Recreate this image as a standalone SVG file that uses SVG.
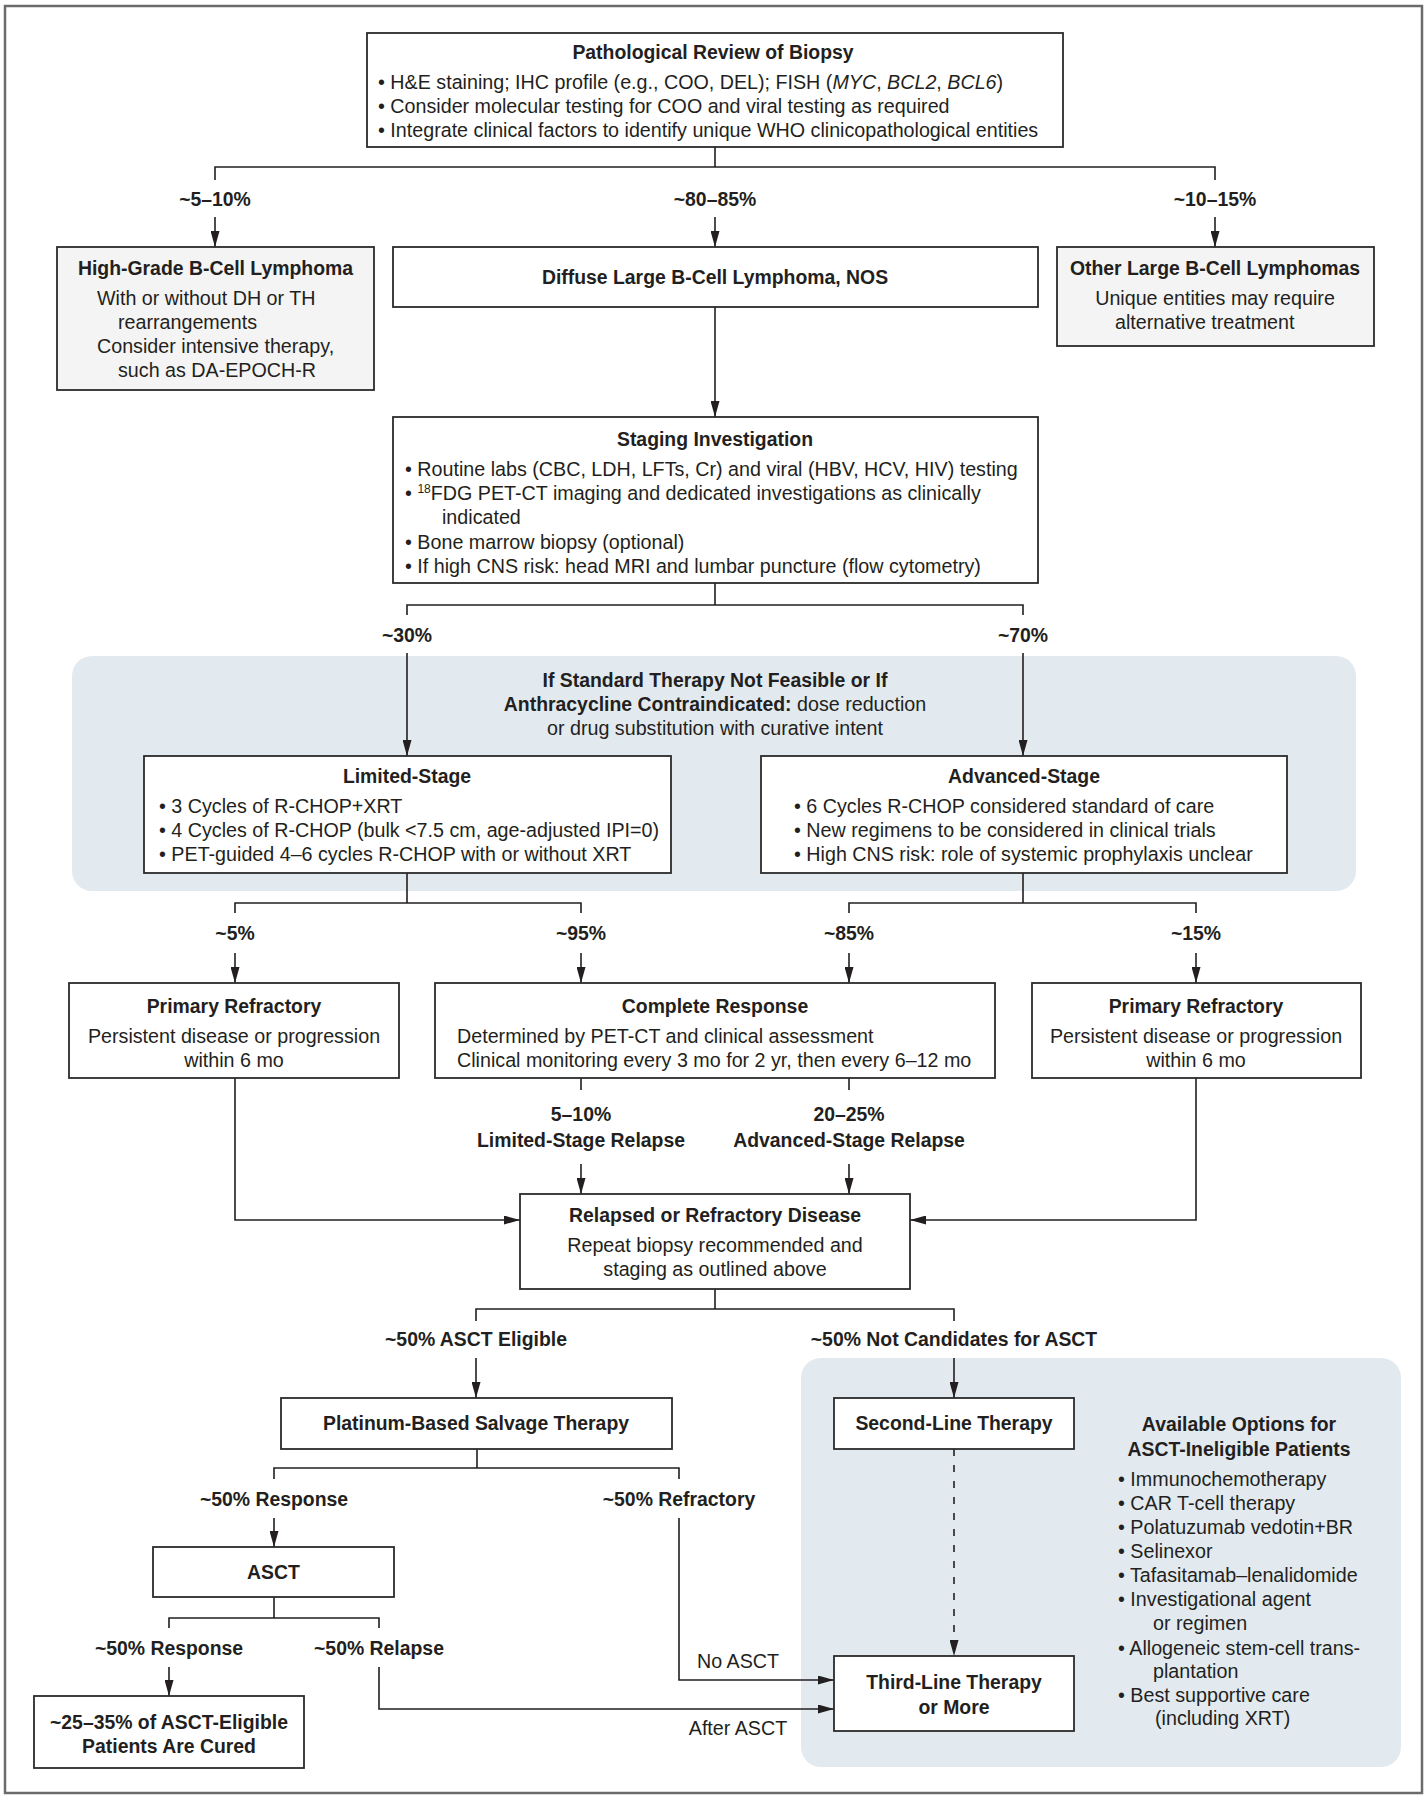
<svg xmlns="http://www.w3.org/2000/svg" width="1428" height="1800" viewBox="0 0 1428 1800">
<defs>
<marker id="ah" viewBox="0 0 16 9" refX="16" refY="4.5" markerWidth="16" markerHeight="9" markerUnits="userSpaceOnUse" orient="auto">
<path d="M0,0 L16,4.5 L0,9 z" fill="#231f20"/>
</marker>
<style>
text{font-family:"Liberation Sans",Arial,sans-serif;font-size:19.7px;fill:#231f20}
.b{font-weight:bold;font-size:19.4px}
tspan.b{font-size:19.4px}
.c{text-anchor:middle}
.i{font-style:italic}
.box{fill:#fff;stroke:#2b2b2b;stroke-width:1.8}
.gbox{fill:#f4f4f4;stroke:#2b2b2b;stroke-width:1.8}
.panel{fill:#e2eaf0}
.ln{fill:none;stroke:#231f20;stroke-width:1.6}
.ar{fill:none;stroke:#231f20;stroke-width:1.6;marker-end:url(#ah)}
.da{fill:none;stroke:#231f20;stroke-width:1.6;stroke-dasharray:7 9;marker-end:url(#ah)}
.sup{font-size:12px}
</style>
</defs>
<rect x="0" y="0" width="1428" height="1800" fill="#fff"/>
<rect x="5" y="6" width="1417" height="1787" fill="none" stroke="#6b6b6b" stroke-width="2.5"/>

<!-- panels -->
<rect id="panel1" class="panel" x="72" y="656" width="1284" height="235" rx="20"/>
<rect id="panel2" class="panel" x="801" y="1358" width="600" height="409" rx="20"/>

<!-- connectors -->
<g id="connectors">
<path class="ln" d="M715,147 V167 M215,180 V167 H1215 V180"/>
<path class="ar" d="M215,217 V247"/>
<path class="ar" d="M715,217 V247"/>
<path class="ar" d="M1215,217 V247"/>
<path class="ar" d="M715,307 V417"/>
<path class="ln" d="M715,583 V605 M407,615 V605 H1023 V615"/>
<path class="ar" d="M407,653 V756"/>
<path class="ar" d="M1023,653 V756"/>
<path class="ln" d="M407,873 V903 M235,913 V903 H581 V913"/>
<path class="ln" d="M1023,873 V903 M849,913 V903 H1196 V913"/>
<path class="ar" d="M235,953 V983"/>
<path class="ar" d="M581,953 V983"/>
<path class="ar" d="M849,953 V983"/>
<path class="ar" d="M1196,953 V983"/>
<path class="ln" d="M581,1078 V1090 M849,1078 V1090"/>
<path class="ar" d="M581,1164 V1194"/>
<path class="ar" d="M849,1164 V1194"/>
<path class="ar" d="M235,1078 V1220 H520"/>
<path class="ar" d="M1196,1078 V1220 H910"/>
<path class="ln" d="M715,1289 V1309 M476,1321 V1309 H954 V1321"/>
<path class="ar" d="M476,1358 V1398"/>
<path class="ar" d="M954,1358 V1398"/>
<path class="da" d="M954,1449 V1656"/>
<path class="ln" d="M477,1449 V1468 M274,1479 V1468 H679 V1479"/>
<path class="ar" d="M274,1518 V1547"/>
<path class="ln" d="M274,1597 V1618 M169,1628 V1618 H379 V1628"/>
<path class="ar" d="M169,1667 V1696"/>
<path class="ar" d="M679,1518 V1680 H834"/>
<path class="ar" d="M379,1667 V1709 H834"/>
</g>

<!-- connector labels -->
<g id="labels">
<text class="b c" x="215" y="205.5">~5–10%</text>
<text class="b c" x="715" y="205.5">~80–85%</text>
<text class="b c" x="1215" y="205.5">~10–15%</text>
<text class="b c" x="407" y="641.5">~30%</text>
<text class="b c" x="1023" y="641.5">~70%</text>
<text class="b c" x="235" y="939.5">~5%</text>
<text class="b c" x="581" y="939.5">~95%</text>
<text class="b c" x="849" y="939.5">~85%</text>
<text class="b c" x="1196" y="939.5">~15%</text>
<text class="b c" x="581" y="1120.5">5–10%</text>
<text class="b c" x="581" y="1146.5">Limited-Stage Relapse</text>
<text class="b c" x="849" y="1120.5">20–25%</text>
<text class="b c" x="849" y="1146.5">Advanced-Stage Relapse</text>
<text class="b c" x="476" y="1345.5">~50% ASCT Eligible</text>
<text class="b c" x="954" y="1345.5">~50% Not Candidates for ASCT</text>
<text class="b c" x="274" y="1505.5">~50% Response</text>
<text class="b c" x="679" y="1505.5">~50% Refractory</text>
<text class="b c" x="169" y="1654.5">~50% Response</text>
<text class="b c" x="379" y="1654.5">~50% Relapse</text>
<text class="c" x="738" y="1667.5">No ASCT</text>
<text class="c" x="738" y="1734.5">After ASCT</text>
</g>

<g id="pathological">
<rect class="box" x="367" y="33" width="696" height="114"/>
<text class="b c" x="713" y="58.5">Pathological Review of Biopsy</text>
<text x="378" y="88.5">• H&amp;E staining; IHC profile (e.g., COO, DEL); FISH (<tspan class="i">MYC</tspan>, <tspan class="i">BCL2</tspan>, <tspan class="i">BCL6</tspan>)</text>
<text x="378" y="112.5">• Consider molecular testing for COO and viral testing as required</text>
<text x="378" y="136.5">• Integrate clinical factors to identify unique WHO clinicopathological entities</text>
</g>

<g id="highgrade">
<rect class="gbox" x="57" y="247" width="317" height="143"/>
<text class="b c" x="215.5" y="274.5">High-Grade B-Cell Lymphoma</text>
<text x="97" y="304.5">With or without DH or TH</text>
<text x="118" y="328.5">rearrangements</text>
<text x="97" y="352.5">Consider intensive therapy,</text>
<text x="118" y="376.5">such as DA-EPOCH-R</text>
</g>

<g id="dlbcl">
<rect class="box" x="393" y="247" width="645" height="60"/>
<text class="b c" x="715" y="283.5">Diffuse Large B-Cell Lymphoma, NOS</text>
</g>

<g id="other">
<rect class="gbox" x="1057" y="247" width="317" height="99"/>
<text class="b c" x="1215" y="274.5">Other Large B-Cell Lymphomas</text>
<text class="c" x="1215" y="304.5">Unique entities may require</text>
<text x="1115" y="328.5">alternative treatment</text>
</g>

<g id="staging">
<rect class="box" x="393" y="417" width="645" height="166"/>
<text class="b c" x="715" y="445.5">Staging Investigation</text>
<text x="405" y="475.5">• Routine labs (CBC, LDH, LFTs, Cr) and viral (HBV, HCV, HIV) testing</text>
<text x="405" y="499.5">• <tspan class="sup" dy="-7">18</tspan><tspan dy="7">FDG PET-CT imaging and dedicated investigations as clinically</tspan></text>
<text x="442" y="523.5">indicated</text>
<text x="405" y="548.5">• Bone marrow biopsy (optional)</text>
<text x="405" y="572.5">• If high CNS risk: head MRI and lumbar puncture (flow cytometry)</text>
</g>

<g id="panel1text">
<text class="b c" x="715" y="686.5">If Standard Therapy Not Feasible or If</text>
<text class="c" x="715" y="710.5"><tspan class="b">Anthracycline Contraindicated:</tspan> dose reduction</text>
<text class="c" x="715" y="734.5">or drug substitution with curative intent</text>
</g>

<g id="limited">
<rect class="box" x="144" y="756" width="527" height="117"/>
<text class="b c" x="407" y="782.5">Limited-Stage</text>
<text x="159" y="812.5">• 3 Cycles of R-CHOP+XRT</text>
<text x="159" y="836.5">• 4 Cycles of R-CHOP (bulk &lt;7.5 cm, age-adjusted IPI=0)</text>
<text x="159" y="860.5">• PET-guided 4–6 cycles R-CHOP with or without XRT</text>
</g>

<g id="advanced">
<rect class="box" x="761" y="756" width="526" height="117"/>
<text class="b c" x="1024" y="782.5">Advanced-Stage</text>
<text x="794" y="812.5">• 6 Cycles R-CHOP considered standard of care</text>
<text x="794" y="836.5">• New regimens to be considered in clinical trials</text>
<text x="794" y="860.5">• High CNS risk: role of systemic prophylaxis unclear</text>
</g>

<g id="refractory-left">
<rect class="box" x="69" y="983" width="330" height="95"/>
<text class="b c" x="234" y="1012.5">Primary Refractory</text>
<text class="c" x="234" y="1042.5">Persistent disease or progression</text>
<text class="c" x="234" y="1066.5">within 6 mo</text>
</g>

<g id="complete">
<rect class="box" x="435" y="983" width="560" height="95"/>
<text class="b c" x="715" y="1012.5">Complete Response</text>
<text x="457" y="1042.5">Determined by PET-CT and clinical assessment</text>
<text x="457" y="1066.5">Clinical monitoring every 3 mo for 2 yr, then every 6–12 mo</text>
</g>

<g id="refractory-right">
<rect class="box" x="1032" y="983" width="329" height="95"/>
<text class="b c" x="1196" y="1012.5">Primary Refractory</text>
<text class="c" x="1196" y="1042.5">Persistent disease or progression</text>
<text class="c" x="1196" y="1066.5">within 6 mo</text>
</g>

<g id="relapsed">
<rect class="box" x="520" y="1194" width="390" height="95"/>
<text class="b c" x="715" y="1221.5">Relapsed or Refractory Disease</text>
<text class="c" x="715" y="1251.5">Repeat biopsy recommended and</text>
<text class="c" x="715" y="1275.5">staging as outlined above</text>
</g>

<g id="platinum">
<rect class="box" x="281" y="1398" width="391" height="51"/>
<text class="b c" x="476" y="1429.5">Platinum-Based Salvage Therapy</text>
</g>

<g id="secondline">
<rect class="box" x="834" y="1398" width="240" height="51"/>
<text class="b c" x="954" y="1429.5">Second-Line Therapy</text>
</g>

<g id="asct">
<rect class="box" x="153" y="1547" width="241" height="50"/>
<text class="b c" x="273.5" y="1578.5">ASCT</text>
</g>

<g id="cured">
<rect class="box" x="34" y="1696" width="270" height="72"/>
<text class="b c" x="169" y="1728.5">~25–35% of ASCT-Eligible</text>
<text class="b c" x="169" y="1752.5">Patients Are Cured</text>
</g>

<g id="thirdline">
<rect class="box" x="834" y="1656" width="240" height="75"/>
<text class="b c" x="954" y="1688.5">Third-Line Therapy</text>
<text class="b c" x="954" y="1713.5">or More</text>
</g>

<g id="options">
<text class="b c" x="1239" y="1430.5">Available Options for</text>
<text class="b c" x="1239" y="1455.5">ASCT-Ineligible Patients</text>
<text x="1118" y="1485.5">• Immunochemotherapy</text>
<text x="1118" y="1509.5">• CAR T-cell therapy</text>
<text x="1118" y="1533.5">• Polatuzumab vedotin+BR</text>
<text x="1118" y="1557.5">• Selinexor</text>
<text x="1118" y="1581.5">• Tafasitamab–lenalidomide</text>
<text x="1118" y="1605.5">• Investigational agent</text>
<text x="1153" y="1629.5">or regimen</text>
<text x="1118" y="1654.5">• Allogeneic stem-cell trans-</text>
<text x="1153" y="1677.5">plantation</text>
<text x="1118" y="1701.5">• Best supportive care</text>
<text x="1155" y="1724.5">(including XRT)</text>
</g>
</svg>
